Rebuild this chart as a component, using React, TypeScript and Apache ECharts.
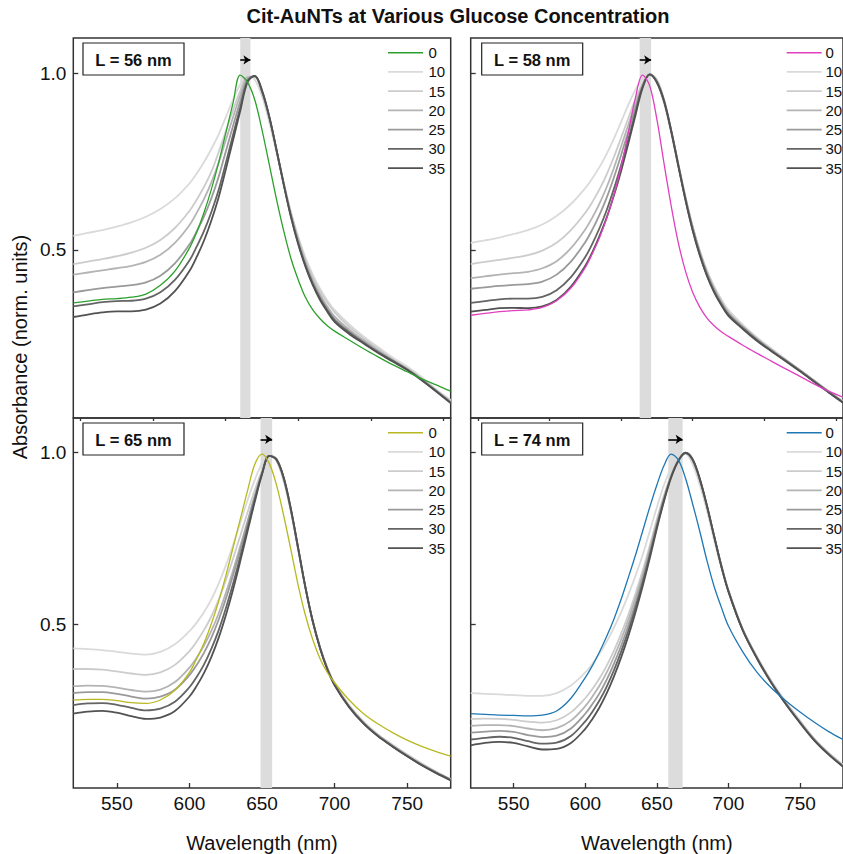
import React, { useEffect, useRef } from "react";
import * as echarts from "echarts";

const WL = [520, 530, 540, 550, 560, 570, 580, 590, 600, 605, 610, 615, 620, 625, 630, 635, 640, 645, 650, 655, 660, 665, 670, 675, 680, 685, 690, 695, 700, 710, 720, 730, 740, 750, 760, 770, 780];
const CONC = ["0", "10", "15", "20", "25", "30", "35"];
const GRAY_COLORS = ["#dadada", "#cccccc", "#b4b4b4", "#9a9a9a", "#646464", "#525252"];
const ZERO_COLORS = ["#2ca02c", "#e040c0", "#b8b820", "#1f77b4"];
const PANEL_LABELS = ["L = 56 nm", "L = 58 nm", "L = 65 nm", "L = 74 nm"];
const BANDS = [[635, 642], [638, 646], [649, 657], [658, 668]];
const X_MAJOR = [550, 600, 650, 700, 750];
const X_MINOR = [525, 575, 625, 675, 725, 775];
const Y_TICKS = [0.5, 1.0];
const ARROW_Y = 1.038;

// L = 56 nm
const TL_0 = [.35, .355, .36, .362, .366, .375, .40, .44, .505, .55, .605, .67, .745, .83, .915, .995, .975, .925, .84, .742, .643, .553, .475, .415, .365, .33, .305, .285, .27, .245, .22, .197, .175, .155, .135, .118, .10];
const TL_10 = [.54, .548, .556, .566, .578, .594, .616, .646, .688, .716, .748, .785, .826, .875, .925, .968, .995, .982, .935, .862, .775, .687, .605, .537, .478, .43, .39, .357, .33, .29, .255, .225, .195, .17, .14, .105, .075];
const TL_15 = [.46, .467, .474, .482, .492, .506, .528, .562, .61, .642, .678, .72, .775, .835, .895, .95, .99, .99, .945, .873, .783, .69, .605, .533, .472, .423, .383, .351, .324, .283, .25, .22, .19, .164, .135, .103, .072];
const TL_20 = [.43, .436, .442, .448, .455, .466, .486, .52, .57, .605, .644, .69, .745, .81, .875, .937, .988, .99, .947, .875, .783, .688, .60, .527, .465, .414, .373, .34, .312, .275, .244, .215, .189, .164, .134, .102, .07];
const TL_25 = [.38, .386, .392, .396, .40, .408, .427, .462, .515, .552, .594, .645, .705, .778, .85, .92, .983, .992, .948, .876, .783, .686, .597, .522, .459, .408, .367, .333, .305, .27, .24, .212, .187, .162, .133, .101, .069];
const TL_30 = [.34, .346, .352, .355, .356, .362, .38, .415, .47, .509, .553, .606, .668, .745, .825, .903, .978, .993, .95, .877, .783, .685, .594, .518, .455, .403, .362, .329, .30, .266, .237, .21, .186, .161, .132, .1, .067];
const TL_35 = [.31, .317, .323, .326, .326, .331, .348, .383, .44, .48, .526, .582, .647, .727, .81, .893, .975, .993, .952, .878, .783, .684, .592, .515, .452, .40, .358, .325, .296, .262, .235, .208, .184, .16, .131, .099, .066];

// L = 58 nm
const TR_0 = [.315, .32, .325, .328, .33, .337, .356, .392, .45, .49, .535, .59, .655, .735, .83, .93, .995, .965, .87, .745, .625, .52, .44, .38, .338, .307, .285, .268, .255, .23, .207, .185, .163, .142, .12, .1, .083];
const TR_10 = [.52, .527, .535, .545, .556, .572, .596, .63, .675, .703, .735, .772, .815, .862, .91, .953, .985, .999, .975, .915, .83, .735, .645, .565, .498, .442, .397, .36, .33, .288, .252, .221, .19, .16, .13, .1, .072];
const TR_15 = [.46, .466, .472, .478, .485, .498, .52, .556, .605, .636, .672, .714, .763, .817, .872, .926, .97, .997, .982, .925, .84, .743, .65, .567, .497, .44, .394, .357, .326, .285, .25, .218, .189, .16, .13, .1, .071];
const TR_20 = [.42, .425, .43, .434, .438, .448, .468, .505, .558, .592, .632, .678, .732, .792, .853, .912, .967, .997, .98, .925, .84, .743, .648, .564, .494, .436, .39, .353, .322, .283, .248, .217, .188, .159, .129, .099, .07];
const TR_25 = [.39, .394, .398, .401, .403, .41, .43, .467, .522, .558, .60, .648, .705, .768, .834, .90, .963, .997, .976, .922, .838, .742, .647, .563, .492, .434, .387, .35, .319, .281, .246, .216, .187, .158, .128, .098, .069];
const TR_30 = [.35, .355, .36, .362, .362, .367, .386, .423, .48, .518, .562, .613, .673, .74, .812, .888, .962, .997, .974, .92, .836, .738, .642, .557, .486, .428, .382, .346, .316, .278, .244, .214, .186, .157, .127, .097, .068];
const TR_35 = [.325, .33, .335, .336, .335, .34, .358, .396, .455, .494, .54, .592, .654, .723, .80, .88, .958, .997, .975, .922, .837, .738, .641, .555, .484, .426, .38, .344, .313, .276, .242, .213, .185, .156, .126, .096, .067];

// L = 65 nm
const BL_0 = [.28, .282, .282, .278, .272, .27, .28, .308, .36, .40, .445, .50, .565, .64, .722, .805, .888, .965, .995, .968, .905, .815, .715, .612, .525, .455, .40, .36, .33, .28, .24, .21, .185, .163, .145, .13, .117];
const BL_10 = [.43, .428, .425, .42, .415, .412, .42, .442, .48, .505, .535, .572, .617, .67, .73, .795, .86, .92, .968, .995, .975, .915, .825, .715, .605, .51, .435, .375, .33, .265, .218, .18, .15, .122, .096, .072, .05];
const BL_15 = [.37, .37, .368, .363, .357, .353, .36, .382, .422, .45, .483, .522, .57, .627, .69, .757, .825, .89, .947, .99, .982, .92, .828, .716, .604, .508, .432, .372, .327, .262, .215, .178, .148, .12, .094, .07, .049];
const BL_20 = [.32, .322, .321, .316, .309, .304, .31, .332, .374, .403, .438, .48, .53, .59, .656, .727, .80, .872, .938, .99, .98, .922, .83, .717, .605, .508, .432, .372, .326, .262, .214, .177, .147, .119, .093, .07, .049];
const BL_25 = [.30, .303, .303, .298, .29, .284, .29, .31, .352, .382, .417, .46, .512, .573, .642, .716, .795, .872, .94, .99, .978, .922, .83, .718, .605, .508, .432, .371, .325, .261, .213, .176, .146, .118, .092, .069, .048];
const BL_30 = [.265, .27, .271, .266, .257, .25, .255, .275, .317, .347, .383, .428, .481, .545, .617, .697, .78, .862, .938, .99, .978, .925, .832, .72, .606, .508, .431, .37, .324, .26, .212, .175, .145, .117, .091, .068, .047];
const BL_35 = [.24, .246, .248, .243, .233, .225, .229, .248, .29, .321, .358, .404, .459, .525, .60, .683, .77, .856, .936, .99, .98, .927, .834, .72, .606, .508, .43, .369, .323, .259, .211, .174, .144, .116, .09, .067, .046];

// L = 74 nm
const BR_0 = [.24, .238, .236, .235, .234, .236, .248, .285, .345, .38, .42, .465, .515, .572, .635, .70, .77, .84, .905, .962, .995, .978, .925, .85, .77, .685, .61, .55, .495, .42, .36, .315, .278, .245, .215, .188, .165];
const BR_10 = [.30, .298, .296, .294, .292, .292, .30, .322, .36, .385, .415, .45, .49, .535, .585, .64, .70, .77, .84, .905, .955, .99, .995, .965, .905, .83, .745, .665, .595, .485, .405, .335, .275, .22, .168, .127, .092];
const BR_15 = [.225, .226, .225, .222, .217, .214, .221, .244, .285, .312, .343, .38, .423, .472, .527, .588, .655, .728, .805, .875, .935, .978, .998, .975, .918, .842, .757, .673, .60, .487, .405, .334, .273, .218, .166, .125, .09];
const BR_20 = [.205, .207, .207, .204, .197, .192, .198, .22, .262, .29, .322, .36, .405, .455, .512, .575, .643, .718, .797, .87, .932, .977, .998, .977, .92, .843, .757, .672, .598, .485, .403, .332, .271, .216, .165, .124, .089];
const BR_25 = [.185, .188, .19, .187, .178, .172, .176, .197, .24, .268, .30, .339, .385, .437, .495, .56, .63, .708, .79, .865, .93, .976, .998, .978, .921, .844, .757, .671, .597, .484, .402, .331, .27, .215, .164, .123, .088];
const BR_30 = [.165, .17, .173, .17, .16, .153, .156, .175, .218, .246, .279, .319, .366, .42, .48, .547, .62, .70, .784, .862, .929, .976, .999, .979, .922, .844, .756, .67, .596, .483, .401, .33, .269, .214, .163, .122, .087];
const BR_35 = [.148, .155, .158, .155, .145, .136, .138, .155, .196, .225, .259, .30, .348, .403, .465, .534, .609, .691, .778, .858, .927, .975, .999, .98, .923, .845, .756, .669, .595, .482, .40, .329, .268, .213, .162, .121, .086];

const PANELS = [
  [TL_0, TL_10, TL_15, TL_20, TL_25, TL_30, TL_35],
  [TR_0, TR_10, TR_15, TR_20, TR_25, TR_30, TR_35],
  [BL_0, BL_10, BL_15, BL_20, BL_25, BL_30, BL_35],
  [BR_0, BR_10, BR_15, BR_20, BR_25, BR_30, BR_35],
];

const GRIDS = [
  { left: 73.3, top: 38, width: 377.4, height: 380 },
  { left: 470.7, top: 38, width: 377.8, height: 380 },
  { left: 73.3, top: 418, width: 377.4, height: 379.3 },
  { left: 470.7, top: 418, width: 377.8, height: 379.3 },
];
const LEGEND_POS = [
  { x: 388, tx: 428.5, y: 52.7 },
  { x: 786.7, tx: 825.5, y: 52.7 },
  { x: 388, tx: 428.5, y: 432.7 },
  { x: 786.7, tx: 825.5, y: 432.7 },
];
const BOX_POS = [
  { x: 83, y: 43 },
  { x: 481.7, y: 43 },
  { x: 83, y: 423 },
  { x: 481.7, y: 423 },
];

const FONT = "'Liberation Sans', Arial, Helvetica, sans-serif";
const Y_MIN = 0.024;
const Y_MAX = 1.1;

function buildOption() {
  const xAxis: any[] = [];
  const yAxis: any[] = [];
  const series: any[] = [];
  const graphic: any[] = [];

  GRIDS.forEach((_, g) => {
    const bottom = g >= 2;
    const left = g % 2 === 0;
    xAxis.push({
      type: "value",
      gridIndex: g,
      min: 520,
      max: 780,
      axisLine: { show: false },
      splitLine: { show: false },
      axisTick: { show: bottom, inside: true, length: 5, customValues: X_MAJOR, lineStyle: { color: "#333", width: 1.3 } },
      axisLabel: { show: bottom, customValues: X_MAJOR, fontSize: 19, color: "#111", margin: 6, fontFamily: FONT },
      name: bottom ? "Wavelength (nm)" : "",
      nameLocation: "middle",
      nameGap: 45,
      nameTextStyle: { fontSize: 20, color: "#111", fontFamily: FONT },
    });
    xAxis.push({
      type: "value",
      gridIndex: g,
      min: 520,
      max: 780,
      axisLine: { show: false },
      splitLine: { show: false },
      axisTick: { show: bottom, inside: true, length: 3, customValues: X_MINOR, lineStyle: { color: "#333", width: 1.3 } },
      axisLabel: { show: false },
    });
    yAxis.push({
      type: "value",
      gridIndex: g,
      min: Y_MIN,
      max: Y_MAX,
      axisLine: { show: false },
      splitLine: { show: false },
      axisTick: { show: true, inside: true, length: 5, customValues: Y_TICKS, lineStyle: { color: "#333", width: 1.3 } },
      axisLabel: {
        show: left,
        customValues: Y_TICKS,
        formatter: (v: number) => v.toFixed(1),
        fontSize: 19,
        color: "#111",
        margin: 7,
        fontFamily: FONT,
      },
    });

    const band = BANDS[g];
    series.push({
      type: "line",
      xAxisIndex: 2 * g,
      yAxisIndex: g,
      data: [[band[0], 0.5]],
      showSymbol: false,
      lineStyle: { opacity: 0 },
      silent: true,
      z: 1,
      markArea: {
        silent: true,
        itemStyle: { color: "#dcdcdc" },
        data: [[{ xAxis: band[0] }, { xAxis: band[1] }]],
      },
      markLine: {
        silent: true,
        symbol: ["none", "arrow"],
        symbolSize: [7, 7],
        label: { show: false },
        lineStyle: { color: "#000", width: 1.6, type: "solid" },
        data: [[{ coord: [band[0], ARROW_Y] }, { coord: [band[1], ARROW_Y] }]],
      },
    });

    const curves = PANELS[g];
    const order = [1, 2, 3, 4, 5, 6, 0];
    order.forEach((c, k) => {
      const color = c === 0 ? ZERO_COLORS[g] : GRAY_COLORS[c - 1];
      series.push({
        type: "line",
        name: CONC[c],
        xAxisIndex: 2 * g,
        yAxisIndex: g,
        data: WL.map((w, i) => [w, curves[c][i]]),
        smooth: 0.35,
        showSymbol: false,
        symbol: "none",
        silent: true,
        clip: true,
        z: 2 + k,
        lineStyle: { color, width: c === 0 ? 1.3 : 1.8 },
      });
    });

    const lp = LEGEND_POS[g];
    CONC.forEach((label, i) => {
      const color = i === 0 ? ZERO_COLORS[g] : GRAY_COLORS[i - 1];
      const y = lp.y + 19.25 * i;
      graphic.push({
        type: "line",
        shape: { x1: lp.x, y1: y, x2: lp.x + 35, y2: y },
        style: { stroke: color, lineWidth: i === 0 ? 1.4 : 1.8 },
        silent: true,
      });
      graphic.push({
        type: "text",
        x: lp.tx,
        y: y,
        style: { text: label, fontSize: 15, fill: "#111", fontFamily: FONT, align: "left", verticalAlign: "middle" },
        silent: true,
      });
    });

    const bp = BOX_POS[g];
    graphic.push({
      type: "rect",
      shape: { x: bp.x, y: bp.y, width: 101, height: 32 },
      style: { fill: "#fff", stroke: "#222", lineWidth: 1.2 },
      silent: true,
    });
    graphic.push({
      type: "text",
      x: bp.x + 50.5,
      y: bp.y + 16.5,
      style: { text: PANEL_LABELS[g], fontSize: 16.5, fontWeight: "bold", fill: "#111", fontFamily: FONT, align: "center", verticalAlign: "middle" },
      silent: true,
    });
  });

  graphic.push({
    type: "text",
    x: 458,
    y: 16,
    style: { text: "Cit-AuNTs at Various Glucose Concentration", fontSize: 20, fontWeight: "bold", fill: "#111", fontFamily: FONT, align: "center", verticalAlign: "middle" },
    silent: true,
  });
  graphic.push({
    type: "text",
    x: 20,
    y: 347,
    rotation: Math.PI / 2,
    style: { text: "Absorbance (norm. units)", fontSize: 20, fill: "#111", fontFamily: FONT, align: "center", verticalAlign: "middle" },
    silent: true,
  });

  return {
    animation: false,
    backgroundColor: "#ffffff",
    textStyle: { fontFamily: FONT },
    grid: GRIDS.map((r) => ({
      ...r,
      show: true,
      borderColor: "#333",
      borderWidth: 1.5,
      backgroundColor: "rgba(0,0,0,0)",
      containLabel: false,
    })),
    xAxis,
    yAxis,
    series,
    graphic,
  };
}

export default function App() {
  const ref = useRef<HTMLDivElement>(null);
  useEffect(() => {
    document.body.style.margin = "0";
    if (!ref.current) return;
    const chart = echarts.init(ref.current, undefined, { renderer: "svg" });
    chart.setOption(buildOption() as any);
    return () => chart.dispose();
  }, []);
  return <div ref={ref} style={{ width: 843, height: 854, overflow: "hidden" }} />;
}
